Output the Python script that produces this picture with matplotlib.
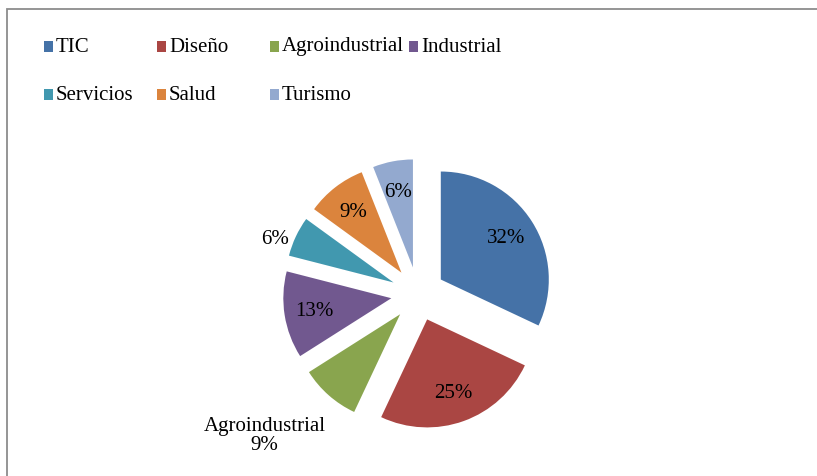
import numpy as np
import matplotlib
matplotlib.use('Agg')
import matplotlib.pyplot as plt
from matplotlib.patches import Rectangle

plt.rcParams['font.family'] = ['Liberation Serif', 'DejaVu Serif']

# data
sectors = ['TIC', 'Diseño', 'Agroindustrial', 'Industrial', 'Servicios', 'Salud', 'Turismo']
shares = [32, 25, 9, 13, 6, 9, 6]
colors = ['#4572A7', '#AA4643', '#89A54E', '#71588F', '#4198AF', '#DB843D', '#93A9CF']

W, H = 817, 477
fig = plt.figure(figsize=(W / 100, H / 100), dpi=100)

# pie axes: 1 data unit = R px, centre at (cx, cy) px from top-left
R, cx, cy = 108, 418, 295
ax = fig.add_axes([0, 0, 1, 1])
wedges, texts, autotexts = ax.pie(shares, colors=colors, startangle=90, counterclock=False,
                                  explode=[0.25] * len(shares), autopct='%1.0f%%',
                                  pctdistance=0.72, textprops={'fontsize': 15})
ax.set_xlim(-cx / R, (W - cx) / R)
ax.set_ylim(-(H - cy) / R, cy / R)
ax.axis('off')

# labels that sit outside their slice
autotexts[4].set_position((-1.32, 0.51))
autotexts[2].set_position((-1.42, -1.31))
autotexts[2].set_text('Agroindustrial\n9%')
autotexts[2].set_ha('center')
autotexts[2].set_linespacing(1.0)

# legend drawn as a grid like the original
x0, y0, dx, dy = 44, 47, 113, 48
renderer = fig.canvas.get_renderer()
prev_end = None
for i, (name, c) in enumerate(zip(sectors, colors)):
    col, row = i % 4, i // 4
    x = x0 + col * dx
    if col == 3 and prev_end is not None:
        x = max(x, prev_end + 5)
    y = y0 + row * dy
    fig.patches.append(Rectangle((x / W, 1 - (y + 6) / H), 9 / W, 11 / H,
                                 transform=fig.transFigure, facecolor=c, edgecolor='none'))
    t = fig.text((x + 12) / W, 1 - y / H, name, fontsize=15, va='center', ha='left')
    prev_end = t.get_window_extent(renderer).x1

# chart frame (only top and left edges visible)
fig.patches.append(Rectangle((7 / W, -0.05), 1.1, 1 - 10 / H + 0.05, transform=fig.transFigure,
                             fill=False, edgecolor='#8c8c8c', lw=1.3))

fig.savefig('out.png', dpi=100)
